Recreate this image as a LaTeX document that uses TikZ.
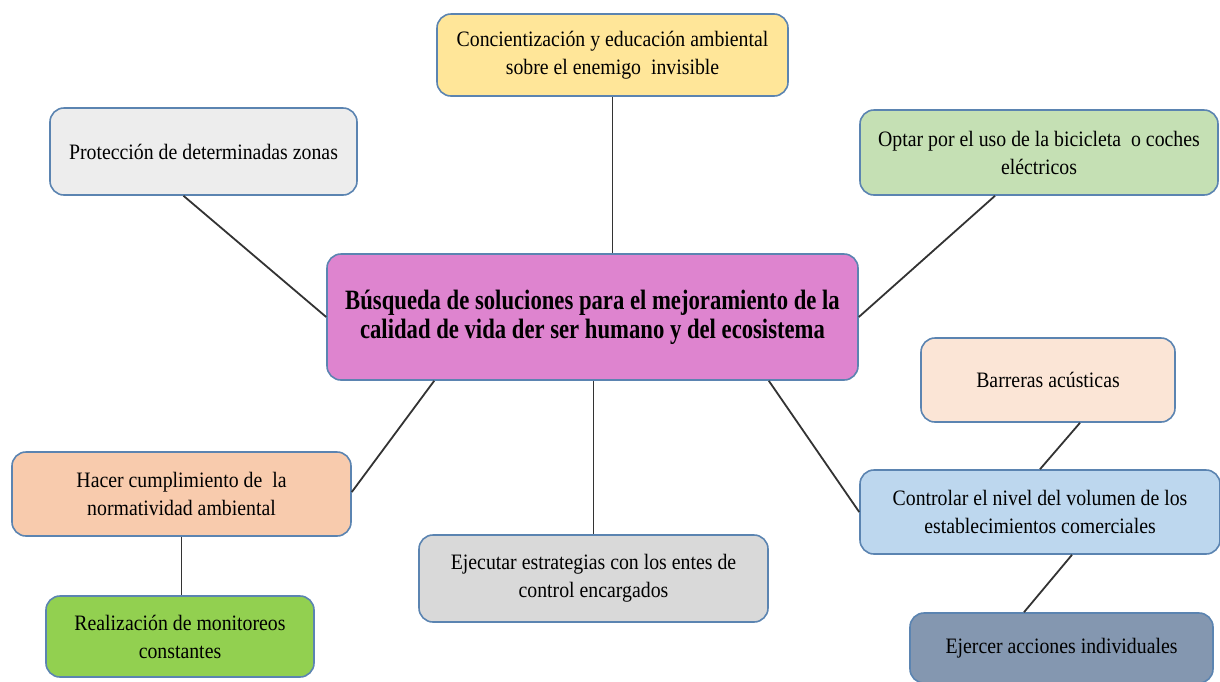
\documentclass[tikz,border=0pt]{standalone}
\usepackage{fontspec}
\setmainfont[FakeStretch=0.9]{Liberation Serif}
\newfontfamily\centralfont[FakeStretch=0.81]{Liberation Serif}
\usetikzlibrary{positioning}
\definecolor{borde}{HTML}{5B84B1}
\definecolor{cAmarillo}{HTML}{FFE699}
\definecolor{cGris}{HTML}{EDEDED}
\definecolor{cVerdeClaro}{HTML}{C5E0B4}
\definecolor{cRosa}{HTML}{DE84CF}
\definecolor{cDurazno}{HTML}{FBE5D6}
\definecolor{cAzul}{HTML}{BDD7EE}
\definecolor{cPizarra}{HTML}{8497B0}
\definecolor{cSalmon}{HTML}{F8CBAD}
\definecolor{cVerde}{HTML}{92D050}
\definecolor{cGrisOsc}{HTML}{D9D9D9}
\begin{document}
\begin{tikzpicture}[x=0.5pt,y=-0.5pt,
    caja/.style={draw=borde,line width=0.8pt,rounded corners=7pt,inner sep=0pt,align=center,
        font=\fontsize{11}{14}\selectfont},
    enlace/.style={draw=black!80,line width=0.9pt}]
        \useasboundingbox (0,0) rectangle (1220,681);

        \node[caja,fill=cRosa,minimum width=265.5pt,minimum height=63pt,
            font=\centralfont\bfseries\fontsize{14}{14.5}\selectfont] (central) at (592.5,317)
            {Búsqueda de soluciones para el mejoramiento de la\\calidad de vida der ser humano y del ecosistema};

        \node[caja,fill=cAmarillo,minimum width=175.5pt,minimum height=41pt] (conc) at (612.5,55)
            {Concientización y educación ambiental\\sobre el enemigo\ \ invisible};
        \node[caja,fill=cGris,minimum width=153.5pt,minimum height=43.5pt] (prot) at (203.5,151.5)
            {Protección de determinadas zonas};
        \node[caja,fill=cVerdeClaro,minimum width=179pt,minimum height=42.5pt] (optar) at (1039,152.5)
            {Optar por el uso de la bicicleta\ \ o coches\\eléctricos};
        \node[caja,fill=cDurazno,minimum width=127pt,minimum height=42pt] (barr) at (1048,380)
            {Barreras acústicas};
        \node[caja,fill=cAzul,minimum width=180pt,minimum height=42pt] (contr) at (1040,512)
            {Controlar el nivel del volumen de los\\establecimientos comerciales};
        \node[caja,fill=cPizarra,minimum width=151.5pt,minimum height=35pt] (ejer) at (1061.5,648)
            {Ejercer acciones individuales};
        \node[caja,fill=cSalmon,minimum width=169.5pt,minimum height=42pt] (hacer) at (181.5,494)
            {Hacer cumplimiento de\ \ la\\normatividad ambiental};
        \node[caja,fill=cVerde,minimum width=134pt,minimum height=40.5pt] (real) at (180,636.5)
            {Realización de monitoreos\\constantes};
        \node[caja,fill=cGrisOsc,minimum width=174.5pt,minimum height=43.5pt] (ejec) at (593.5,578.5)
            {Ejecutar estrategias con los entes de\\control encargados};

        \path [enlace] (conc.south) edge (conc.south |- central.north);
        \path [enlace] ([xshift=-10pt]prot.south) edge (central.west);
        \path [enlace] ([xshift=-22pt]optar.south) edge (central.east);
        \path [enlace] ([xshift=54pt]central.south west) edge ([yshift=1pt]hacer.east);
        \path [enlace] (central.south -| ejec.north) edge (ejec.north);
        \path [enlace] ([xshift=-45pt]central.south east) edge (contr.west);
        \path [enlace] ([xshift=16pt]barr.south) edge (contr.north);
        \path [enlace] ([xshift=16pt]contr.south) edge ([xshift=-18.75pt]ejer.north);
        \path [enlace] (hacer.south) edge (hacer.south |- real.north);
    \end{tikzpicture}
\end{document}
